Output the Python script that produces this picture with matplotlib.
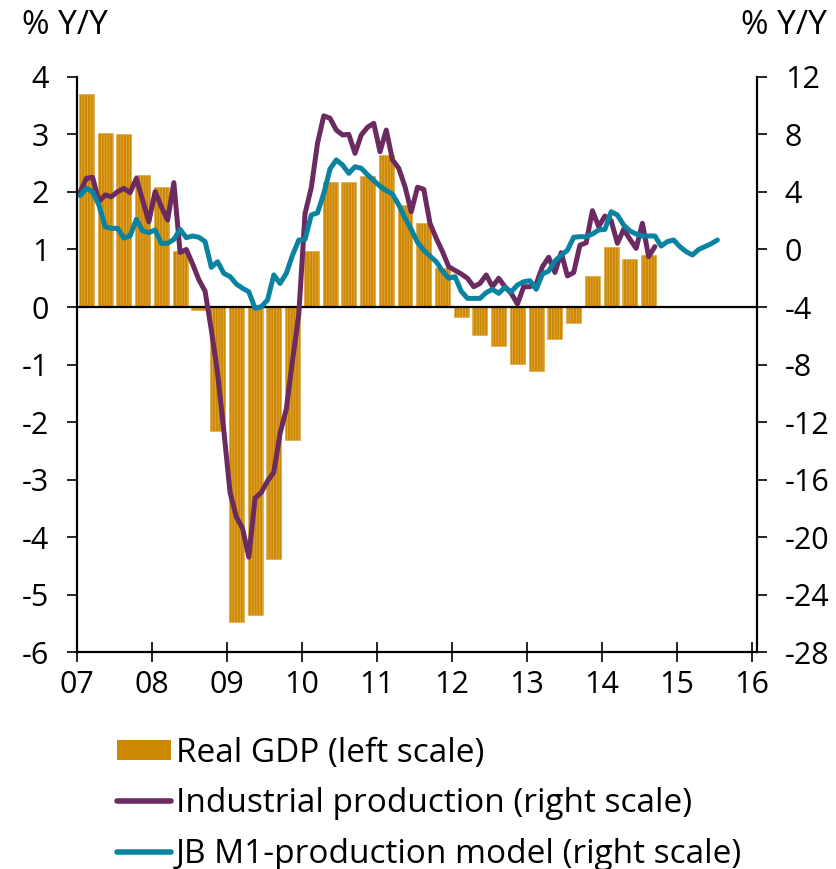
import numpy as np
import matplotlib
matplotlib.use('Agg')
import matplotlib.pyplot as plt
from matplotlib.patches import Patch
from matplotlib.lines import Line2D

plt.rcParams['font.family'] = ['Open Sans', 'DejaVu Sans']
plt.rcParams['axes.unicode_minus'] = False
plt.rcParams['hatch.linewidth'] = 0.6

# quarterly real GDP, % y/y (left scale), 2007Q1 - 2014Q3
gdp = [3.70, 3.03, 3.00, 2.29,
       2.09, 0.98, -0.05, -2.15,
       -5.48, -5.36, -4.38, -2.32,
       0.97, 2.17, 2.17, 2.28,
       2.64, 1.77, 1.46, 0.68,
       -0.17, -0.49, -0.68, -0.99,
       -1.12, -0.56, -0.28, 0.54,
       1.04, 0.83, 0.91]

# monthly industrial production, % y/y (right scale), from Jan 2007
ind_prod = [4.0, 4.95, 5.02, 3.33, 3.8, 3.67, 4.02, 4.25, 3.95, 4.95,
            3.44, 1.93, 4.02, 2.98, 2.05, 4.65, -0.2, 0.0, -1.0, -2.1,
            -2.9, -5.6, -8.6, -12.6, -16.9, -18.6, -19.4, -21.4, -17.3, -16.9,
            -16.1, -15.5, -12.8, -11.1, -7.7, -4.5, 2.5, 4.3, 7.4, 9.3,
            9.13, 8.31, 7.97, 8.01, 6.69, 7.97, 8.5, 8.78, 6.8, 8.31,
            6.23, 5.65, 4.37, 2.63, 4.33, 4.19, 1.82, 0.78, -0.15, -1.2,
            -1.45, -1.7, -2.0, -2.59, -2.36, -1.77, -2.59, -2.0, -2.59, -3.05,
            -3.79, -2.59, -2.59, -2.4, -1.2, -0.54, -1.6, -0.22, -1.84, -1.6,
            0.3, 0.47, 2.7, 1.59, 2.33, 2.0, 0.43, 1.4, 0.71, 0.08,
            1.82, -0.5, 0.2]

# monthly JB M1-production model (right scale), from Jan 2007
m1_model = [3.75, 4.25, 4.02, 3.1, 1.59, 1.47, 1.47, 0.8, 0.95, 2.1,
            1.3, 1.17, 1.36, 0.43, 0.43, 0.7, 1.4, 0.82, 0.94, 0.85,
            0.55, -1.24, -0.85, -1.66, -1.89, -2.4, -2.7, -2.94, -4.09, -3.98,
            -3.51, -1.77, -2.36, -1.66, -0.39, 0.66, 0.7, 2.4, 2.55, 3.9,
            5.6, 6.23, 5.88, 5.3, 5.76, 5.65, 5.2, 4.8, 4.4, 4.1,
            3.85, 3.1, 2.2, 1.4, 0.5, -0.05, -0.45, -0.85, -1.5, -2.0,
            -1.89, -2.9, -3.4, -3.4, -3.4, -3.0, -2.77, -3.05, -2.63, -2.94,
            -2.47, -2.24, -2.17, -2.77, -1.7, -1.5, -0.8, -0.4, -0.05, 0.85,
            0.89, 0.89, 1.08, 1.36, 1.4, 2.63, 2.4, 1.7, 1.29, 1.08,
            0.94, 0.94, 0.94, 0.24, 0.55, 0.66, 0.2, -0.15, -0.38, 0.0,
            0.2, 0.4, 0.66]

years = list(range(2007, 2017))
year_labels = ['07', '08', '09', '10', '11', '12', '13', '14', '15', '16']

gold = '#CC8800'
purple = '#6B2A60'
teal = '#0A83A0'
fs = 22
fs_big = 24

# time axis positions: quarter centres and mid-month
q_x = 2007 + 0.125 + 0.25 * np.arange(len(gdp))
ip_x = 2007 + (np.arange(len(ind_prod)) + 0.5) / 12
m1_x = 2007 + (np.arange(len(m1_model)) + 0.5) / 12

fig = plt.figure(figsize=(8.37, 8.69), dpi=100)
ax = fig.add_axes([0.092, 0.2497, 0.8124, 0.6617])

ax.bar(q_x, gdp, width=0.2, color=gold, edgecolor='#E2AA48',
       hatch='||||||', linewidth=0.5, zorder=1)
ax.axhline(0, color='black', lw=1.6, zorder=2)

ax.set_xlim(2007, 2016.07)
ax.set_ylim(-6, 4)
ax.set_yticks(range(-6, 5))
ax.set_xticks(years)
ax.set_xticklabels(year_labels)

ax2 = ax.twinx()
ax2.plot(ip_x, ind_prod, color=purple, lw=3.6, solid_capstyle='round',
         solid_joinstyle='round', zorder=3)
ax2.plot(m1_x, m1_model, color=teal, lw=3.6, solid_capstyle='round',
         solid_joinstyle='round', zorder=4)
ax2.set_ylim(-28, 12)
ax2.set_yticks(range(-28, 13, 4))

for a in (ax, ax2):
    a.spines['top'].set_visible(False)
    for s in a.spines.values():
        s.set_linewidth(1.6)
ax.spines['right'].set_visible(False)
ax2.spines['left'].set_visible(False)
ax2.spines['bottom'].set_visible(False)

ax.tick_params(axis='y', direction='out', length=7, width=1.2, pad=13, labelsize=fs)
ax.tick_params(axis='x', direction='inout', length=14, width=1.2, pad=6, labelsize=fs)
ax2.tick_params(axis='y', direction='out', length=7, width=1.2, pad=13, labelsize=fs)

fig.text(0.026, 0.971, '% Y/Y', fontsize=fs_big, ha='left', va='center')
fig.text(0.988, 0.971, '% Y/Y', fontsize=fs_big, ha='right', va='center')

handles = [Patch(facecolor=gold, edgecolor='none'),
           Line2D([], [], color=purple, lw=4, solid_capstyle='round'),
           Line2D([], [], color=teal, lw=4, solid_capstyle='round')]
labels = ['Real GDP (left scale)', 'Industrial production (right scale)',
          'JB M1-production model (right scale)']
fig.legend(handles, labels, loc='upper left', bbox_to_anchor=(0.14, 0.152),
           frameon=False, fontsize=fs_big, handlelength=1.62, handleheight=0.55,
           handletextpad=0.15, labelspacing=0.52, borderpad=0, borderaxespad=0)

fig.savefig('out.png', dpi=100)
